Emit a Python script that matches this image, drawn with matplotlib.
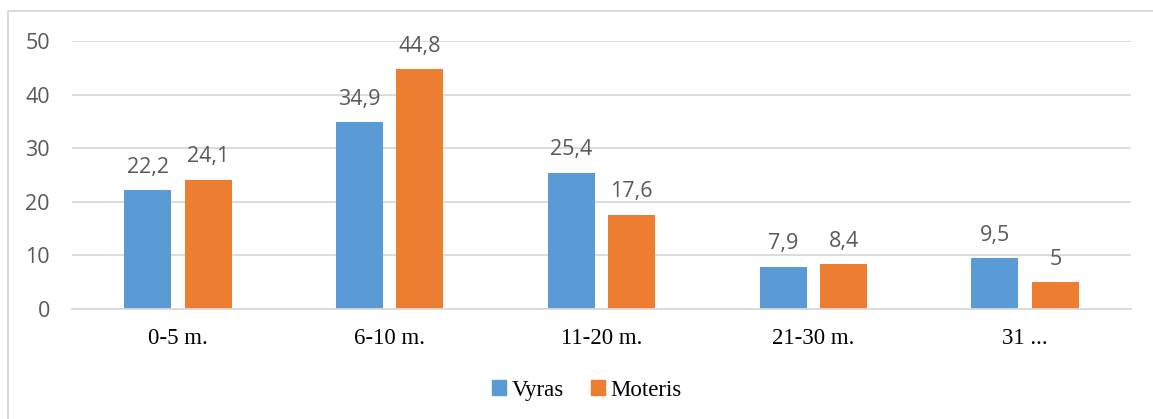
import matplotlib.pyplot as plt
import numpy as np
from matplotlib.patches import Rectangle, Patch

categories = ["0-5 m.", "6-10 m.", "11-20 m.", "21-30 m.", "31 ..."]
vyras = [22.2, 34.9, 25.4, 7.9, 9.5]
moteris = [24.1, 44.8, 17.6, 8.4, 5]
series_names = ["Vyras", "Moteris"]
yticks = [0, 10, 20, 30, 40, 50]

BLUE = "#5B9BD5"
ORANGE = "#ED7D31"
GRID = "#D9D9D9"
LABEL = "#595959"
SANS = ["Open Sans", "DejaVu Sans"]
SERIF = ["Liberation Serif", "DejaVu Serif"]

W, H = 1153, 419
fig = plt.figure(figsize=(W / 100, H / 100), dpi=100)
ax = fig.add_axes([72 / W, (H - 309) / H, (1131 - 72) / W, (309 - 41) / H])

x = np.arange(len(categories))
bw = 0.222
off = 0.143
b1 = ax.bar(x - off, vyras, bw, color=BLUE, zorder=3)
b2 = ax.bar(x + off, moteris, bw, color=ORANGE, zorder=3)

def fmt(v):
    s = f"{v:g}"
    return s.replace(".", ",")

for bars, vals in ((b1, vyras), (b2, moteris)):
    for r, v in zip(bars, vals):
        ax.annotate(fmt(v), (r.get_x() + r.get_width() / 2, v),
                    xytext=(0, 12.5), textcoords="offset points",
                    ha="center", va="baseline", fontsize=15.5,
                    color=LABEL, family=SANS)

ax.set_xlim(-0.5, len(categories) - 0.5)
ax.set_ylim(0, 50)
ax.set_yticks(yticks)
ax.set_yticklabels([str(t) for t in yticks], family=SANS, fontsize=15.5, color=LABEL)
ax.set_xticks(x)
ax.set_xticklabels(categories, family=SERIF, fontsize=16.5, color="black")
ax.tick_params(axis="both", length=0)
ax.tick_params(axis="y", pad=16)
ax.tick_params(axis="x", pad=14)
ax.grid(axis="y", color=GRID, linewidth=1.3, zorder=0)
for s in ("left", "right", "top"):
    ax.spines[s].set_visible(False)
ax.spines["bottom"].set_color(GRID)
ax.spines["bottom"].set_linewidth(1.3)
ax.spines["bottom"].set_zorder(4)

handles = [Patch(color=BLUE), Patch(color=ORANGE)]
fig.legend(handles, series_names, loc="center", bbox_to_anchor=(587 / W, (H - 390) / H),
           ncol=2, frameon=False, prop={"family": SERIF, "size": 16.5},
           handlelength=0.6, handleheight=0.6, handletextpad=0.25, columnspacing=1.2)

# chart frame
fig.patches.append(Rectangle((8 / W, -0.1), 1.2, (H - 11) / H + 0.1,
                             transform=fig.transFigure, fill=False,
                             edgecolor=GRID, linewidth=1.3))

fig.savefig("out.png", dpi=100)
